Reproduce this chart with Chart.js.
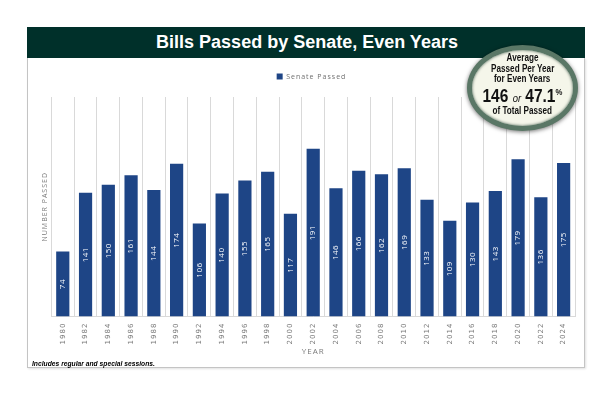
<!DOCTYPE html>
<html>
<head>
<meta charset="utf-8">
<script src="https://cdn.jsdelivr.net/npm/chart.js@4"></script>
<style>
  html,body{margin:0;padding:0;background:#fff;}
  #wrap{position:relative;width:612px;height:396px;overflow:hidden;background:#fff;}
  #frame{position:absolute;left:27px;top:58px;width:556px;height:309px;border:1px solid #c4c4c4;border-top:none;box-shadow:1px 1px 2px rgba(0,0,0,0.12);}
  #band{position:absolute;left:27px;top:27px;width:558px;height:31px;background:#00302a;color:#fff;
        font-family:"Liberation Sans",Arial,sans-serif;font-weight:bold;font-size:18px;line-height:31px;text-align:center;}
  #band span{position:relative;left:1px;}
  canvas{position:absolute;left:0;top:0;}
  #badge{position:absolute;left:467px;top:45px;width:101px;height:76px;border-radius:50%;
         border:5px solid #5a7766;background:#f5f6ea;
         box-shadow:0 1px 4px rgba(0,0,0,0.55), inset 0 0 3px rgba(30,60,45,0.8);
         font-family:"Liberation Sans",Arial,sans-serif;font-weight:bold;color:#111;text-align:center;}
  #badge .row{position:absolute;left:-20px;right:-20px;white-space:nowrap;text-align:center;}
  #badge .row span{display:inline-block;transform-origin:center;}
  #badge .s{font-size:11px;line-height:11px;}
  #badge .s span{transform:scaleX(0.74);}
  #badge .big{font-size:18px;line-height:18px;}
  #badge .big span{transform:scaleX(0.86);}
  #badge .big i{font-size:11px;font-weight:normal;}
  #badge .big sup{font-size:9px;vertical-align:7px;line-height:0;}
  #note{position:absolute;left:32px;top:359px;font-family:"Liberation Sans",Arial,sans-serif;font-weight:bold;font-style:italic;font-size:8px;color:#000;white-space:nowrap;transform:scaleX(0.84);transform-origin:left center;}
</style>
</head>
<body>
<div id="wrap">
  <div id="frame"></div>
  <canvas id="c" width="612" height="396"></canvas>
  <div id="band"><span>Bills Passed by Senate, Even Years</span></div>
  <div id="badge">
    <div class="row s" style="top:1.5px"><span>Average</span></div>
    <div class="row s" style="top:12.5px"><span>Passed Per Year</span></div>
    <div class="row s" style="top:22.5px"><span>for Even Years</span></div>
    <div class="row big" style="top:37px"><span>146 <i>or</i> 47.1<sup>%</sup></span></div>
    <div class="row s" style="top:54.5px"><span>of Total Passed</span></div>
  </div>
  <div id="note">Includes regular and special sessions.</div>
</div>
<script>
const years = ["1980","1982","1984","1986","1988","1990","1992","1994","1996","1998","2000","2002","2004","2006","2008","2010","2012","2014","2016","2018","2020","2022","2024"];
const senatePassed = [74,141,150,161,144,174,106,140,155,165,117,191,146,166,162,169,133,109,130,143,179,136,175];
const seriesName = "Senate Passed";

const barLabels = {
  id: 'barLabels',
  afterDatasetsDraw(chart) {
    const ctx = chart.ctx;
    const meta = chart.getDatasetMeta(0);
    ctx.save();
    ctx.letterSpacing = '0.5px';
    ctx.fillStyle = '#ffffff';
    ctx.font = '8px "Open Sans", "DejaVu Sans", sans-serif';
    ctx.textAlign = 'center';
    ctx.textBaseline = 'middle';
    meta.data.forEach((bar, i) => {
      const cy = (bar.y + bar.base) / 2;
      ctx.save();
      ctx.translate(bar.x, cy);
      ctx.rotate(-Math.PI / 2);
      ctx.fillText(String(chart.data.datasets[0].data[i]), 0, 0);
      ctx.restore();
    });
    ctx.restore();
  }
};
const spacing = {
  id: 'spacing',
  beforeDraw(chart){ chart.ctx.letterSpacing = '1px'; },
  beforeDatasetsDraw(chart){ chart.ctx.letterSpacing = '0px'; }
};
const legendGap = {
  id: 'legendGap',
  beforeInit(chart) {
    const origFit = chart.legend.fit;
    chart.legend.fit = function() {
      origFit.call(this);
      this.height += 7;
    };
  }
};

new Chart(document.getElementById('c'), {
  type: 'bar',
  data: {
    labels: years,
    datasets: [{
      label: seriesName,
      data: senatePassed,
      backgroundColor: '#1e4586',
      borderColor: '#1e4586',
      borderWidth: 0,
      categoryPercentage: 1.0,
      barPercentage: 0.58
    }]
  },
  options: {
    responsive: false,
    animation: false,
    devicePixelRatio: 1,
    layout: { padding: { left: 35, right: 37, top: 62, bottom: 39 } },
    plugins: {
      legend: {
        display: true,
        position: 'top',
        labels: {
          boxWidth: 6, boxHeight: 6, padding: 11,
          color: '#6f6f6f',
          font: { family: '"Open Sans", "DejaVu Sans", sans-serif', size: 7 }
        }
      },
      tooltip: { enabled: false }
    },
    scales: {
      x: {
        offset: true,
        grid: { display: true, offset: true, color: '#d9d9d9', lineWidth: 1, drawTicks: false },
        border: { display: true, color: '#d9d9d9' },
        ticks: {
          color: '#7a7a7a', minRotation: 90, maxRotation: 90, padding: 6, autoSkip: false,
          font: { family: '"DejaVu Sans", sans-serif', size: 7 }
        },
        title: {
          display: true, text: 'YEAR', color: '#7a7a7a', padding: { top: 1, bottom: 0 },
          font: { family: '"Open Sans", "DejaVu Sans", sans-serif', size: 8 }
        }
      },
      y: {
        min: 0, max: 250,
        grid: { display: false, drawTicks: false },
        border: { display: false },
        ticks: { display: false },
        title: {
          display: true, text: 'NUMBER PASSED', color: '#7a7a7a', padding: { top: 6, bottom: 2 },
          font: { family: '"Open Sans", "DejaVu Sans", sans-serif', size: 7 }
        }
      }
    }
  },
  plugins: [spacing, barLabels, legendGap]
});
</script>
</body>
</html>
